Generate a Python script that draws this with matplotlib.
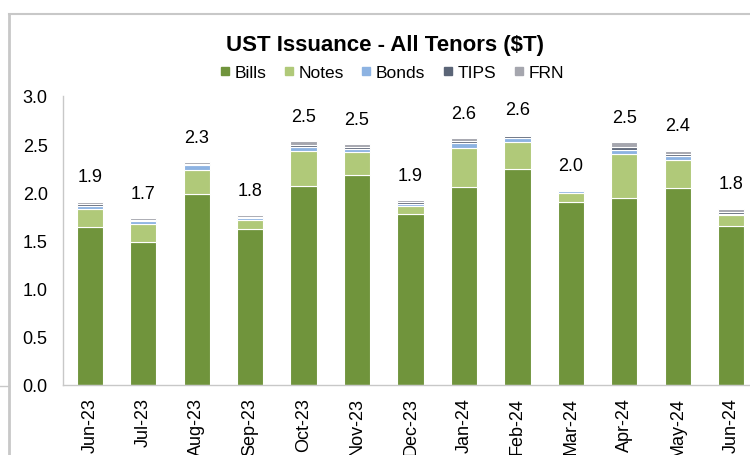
import numpy as np
import matplotlib
matplotlib.use("Agg")
import matplotlib.pyplot as plt
from matplotlib.lines import Line2D

# Data ($T)
months = ["Jun-23", "Jul-23", "Aug-23", "Sep-23", "Oct-23", "Nov-23", "Dec-23",
          "Jan-24", "Feb-24", "Mar-24", "Apr-24", "May-24", "Jun-24"]
bills = [1.64, 1.48, 1.98, 1.62, 2.07, 2.18, 1.77, 2.06, 2.24, 1.90, 1.94, 2.04, 1.65]
notes = [0.19, 0.19, 0.25, 0.09, 0.36, 0.24, 0.09, 0.40, 0.28, 0.09, 0.46, 0.30, 0.11]
bonds = [0.03, 0.03, 0.05, 0.02, 0.04, 0.03, 0.02, 0.05, 0.04, 0.025, 0.04, 0.04, 0.02]
tips = [0.02, 0.015, 0.015, 0.015, 0.02, 0.02, 0.02, 0.02, 0.02, 0.0, 0.03, 0.02, 0.02]
frn = [0.02, 0.015, 0.015, 0.015, 0.04, 0.03, 0.02, 0.03, 0.02, 0.005, 0.05, 0.03, 0.03]

series = [("Bills", bills, "#70943c"),
          ("Notes", notes, "#b0c979"),
          ("Bonds", bonds, "#8db3e2"),
          ("TIPS", tips, "#5b6577"),
          ("FRN", frn, "#a5a6ae")]

narrow = ["Liberation Sans Narrow", "Liberation Sans", "DejaVu Sans"]
plt.rcParams["font.family"] = ["Liberation Sans", "DejaVu Sans"]

fig = plt.figure(figsize=(7.5, 4.56), dpi=100)
ax = fig.add_axes([63 / 750, 70 / 456, 687 / 750, 289 / 456])

x = np.arange(len(months))
bottom = np.zeros(len(months))
handles = []
for name, vals, col in series:
    vals = np.array(vals)
    ax.bar(x, vals, width=0.49, bottom=bottom, color=col,
           edgecolor="white", linewidth=0.8, label=name)
    bottom += vals
    handles.append(Line2D([], [], marker="s", ls="", color=col, markersize=6))

# total labels
for xi, tot in zip(x, bottom):
    ax.annotate(f"{tot:.1f}", (xi, tot), xytext=(0, 18), textcoords="offset points",
                ha="center", va="center", fontsize=13)

ax.set_xlim(-0.5, 12.35)
ax.set_ylim(0, 3.0)
ax.set_yticks(np.arange(0, 3.01, 0.5))
ax.set_yticklabels([f"{v:.1f}" for v in np.arange(0, 3.01, 0.5)])
ax.set_xticks(x)
ax.set_xticklabels(months, rotation=90)
ax.tick_params(axis="both", length=0, labelsize=13)
ax.tick_params(axis="y", pad=11)
ax.tick_params(axis="x", pad=9)
for s in ["top", "right"]:
    ax.spines[s].set_visible(False)
for s in ["left", "bottom"]:
    ax.spines[s].set_color("#c8c8c8")
    ax.spines[s].set_linewidth(1)

fig.text(385 / 750, 1 - 45 / 456, "UST Issuance - All Tenors ($T)", ha="center",
         va="center", fontsize=16, fontweight="bold", family=narrow)
fig.legend(handles, [s[0] for s in series], loc="center", ncol=5,
           bbox_to_anchor=(390 / 750, 1 - 73 / 456), frameon=False,
           prop={"family": narrow, "size": 12.5}, handletextpad=0.05,
           columnspacing=0.8, handlelength=1.0)

# chart-area borders
fig.add_artist(Line2D([8.5 / 750, 8.5 / 750], [0, 1 - 15 / 456], transform=fig.transFigure,
                      color="#c8c8c8", lw=2))
fig.add_artist(Line2D([8.5 / 750, 1], [1 - 15 / 456, 1 - 15 / 456], transform=fig.transFigure,
                      color="#c8c8c8", lw=1.5))
fig.add_artist(Line2D([0, 8.5 / 750], [1 - 387 / 456, 1 - 387 / 456], transform=fig.transFigure,
                      color="#c8c8c8", lw=1))

fig.savefig("out.png", dpi=100)
